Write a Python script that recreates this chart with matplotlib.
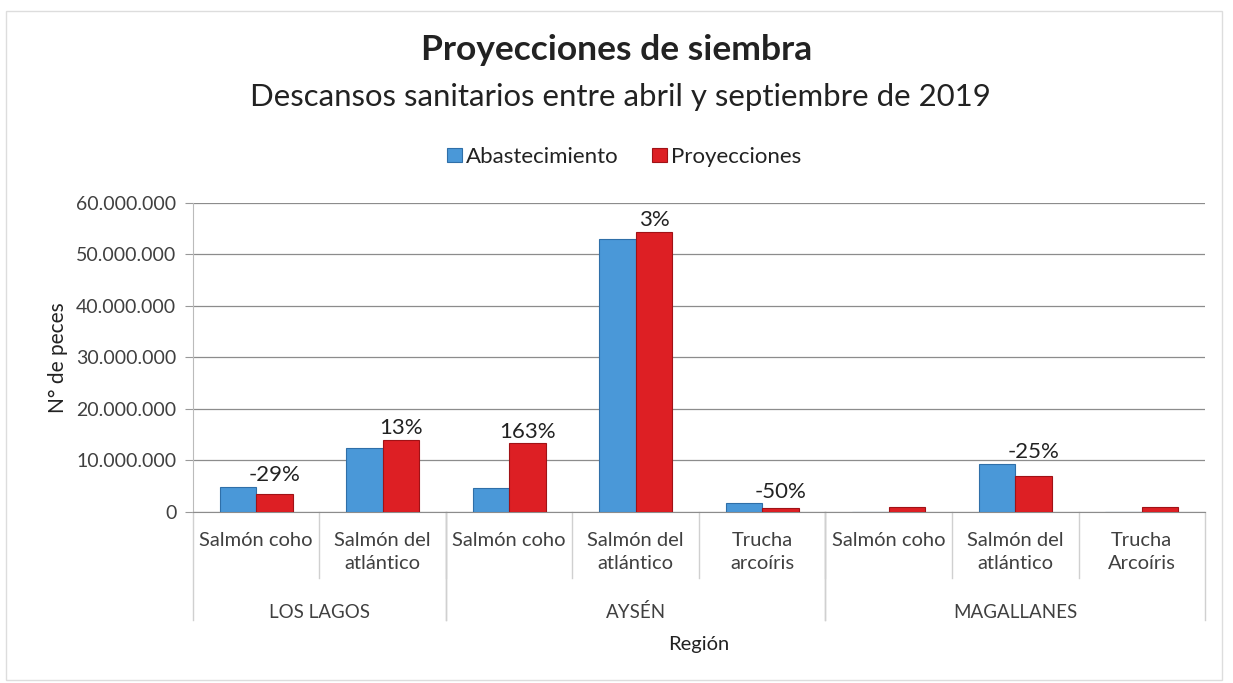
import matplotlib
matplotlib.use("Agg")
import matplotlib.pyplot as plt
import matplotlib.transforms as mtransforms
from matplotlib.patches import Rectangle
from matplotlib.ticker import FuncFormatter

plt.rcParams['font.family'] = ['Lato', 'DejaVu Sans']

# datos
especies = ["Salmón coho", "Salmón del\natlántico",
            "Salmón coho", "Salmón del\natlántico", "Trucha\narcoíris",
            "Salmón coho", "Salmón del\natlántico", "Trucha\nArcoíris"]
regiones = ["LOS LAGOS", "AYSÉN", "MAGALLANES"]
n_por_region = [2, 3, 3]
abastecimiento = [4.9e6, 12.4e6, 4.6e6, 53.0e6, 1.7e6, 0, 9.4e6, 0]
proyecciones = [3.5e6, 14.0e6, 13.3e6, 54.4e6, 0.85e6, 1.0e6, 6.9e6, 1.0e6]
variacion = ["-29%", "13%", "163%", "3%", "-50%", "", "-25%", ""]

azul = "#4A98D8"
rojo = "#DD1F24"
gris = "#404040"

fig = plt.figure(figsize=(12.33, 6.83), dpi=100)
ax = fig.add_axes([0.1565, 0.2504, 0.8208, 0.4524])

x = list(range(len(especies)))
w = 0.29
ax.bar([i - w/2 for i in x], abastecimiento, w, color=azul,
       edgecolor="#2F6FA8", linewidth=0.8, label="Abastecimiento", zorder=3)
ax.bar([i + w/2 for i in x], proyecciones, w, color=rojo,
       edgecolor="#A01216", linewidth=0.8, label="Proyecciones", zorder=3)

# porcentajes sobre cada par de barras
for i in x:
    if variacion[i]:
        ax.annotate(variacion[i], (i + w/2, max(abastecimiento[i], proyecciones[i])),
                    xytext=(0, 1), textcoords="offset points",
                    ha="center", va="bottom", fontsize=16, color="#222222")

ax.set_xlim(-0.5, len(especies) - 0.5)
ax.set_ylim(0, 60e6)
ax.set_yticks(range(0, 60000001, 10000000))
ax.yaxis.set_major_formatter(FuncFormatter(lambda v, p: "{:,.0f}".format(v).replace(",", ".")))
ax.tick_params(axis="y", labelsize=14, labelcolor=gris, length=6, color="#999999", pad=6)
ax.set_xticks([])
ax.grid(axis="y", color="#8C8C8C", linewidth=0.9, zorder=0)
for s in ["top", "right"]:
    ax.spines[s].set_visible(False)
ax.spines["left"].set_color("#BBBBBB")
ax.spines["bottom"].set_color("#8C8C8C")
ax.set_ylabel("N° de peces", fontsize=15, color="#222222", labelpad=6)

# etiquetas de categorias en dos niveles
trans = mtransforms.blended_transform_factory(ax.transData, ax.transAxes)
for i in x:
    ax.text(i, -0.066, especies[i], transform=trans, ha="center", va="top",
            fontsize=14.5, color=gris, linespacing=1.42)
    if i > 0:
        ax.plot([i - 0.5, i - 0.5], [0, -0.215], transform=trans,
                color="#D0D0D0", lw=1, clip_on=False)

inicio = 0
for reg, n in zip(regiones, n_por_region):
    ax.text(inicio + n/2 - 0.5, -0.324, reg, transform=trans, ha="center",
            va="center", fontsize=13.5, color=gris)
    for b in (inicio - 0.5, inicio + n - 0.5):
        ax.plot([b, b], [0, -0.35], transform=trans, color="#D0D0D0", lw=1,
                clip_on=False)
    inicio += n

ax.text(0.5, -0.43, "Región", transform=ax.transAxes, ha="center", va="center",
        fontsize=14.5, color="#222222")

fig.text(0.5, 1 - 50/683, "Proyecciones de siembra", ha="center", va="center",
         fontsize=25.5, fontweight="bold", color="#222222")
fig.text(0.503, 1 - 97/683, "Descansos sanitarios entre abril y septiembre de 2019",
         ha="center", va="center", fontsize=22.4, color="#222222")
fig.legend(loc="center", bbox_to_anchor=(0.506, 1 - 157/683), ncol=2, frameon=False,
           fontsize=16, handlelength=0.7, handleheight=0.55, handletextpad=0.15,
           columnspacing=1.5, labelcolor="#222222")

# marco exterior del grafico
fig.patches.append(Rectangle((6/1233, 3/683), 1216/1233, 669/683,
                             transform=fig.transFigure, fill=False,
                             edgecolor="#DDDDDD", lw=1))

fig.savefig("out.png", dpi=100, facecolor="white")
